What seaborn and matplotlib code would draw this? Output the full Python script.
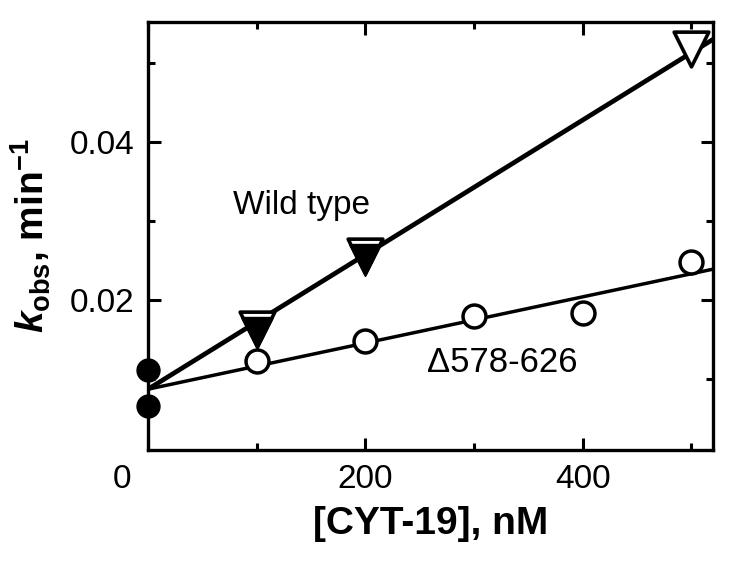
import numpy as np
import pandas as pd
import matplotlib
matplotlib.use("Agg")
import matplotlib.pyplot as plt
import matplotlib.transforms as mtransforms
from matplotlib.ticker import FixedLocator
import seaborn as sns

# ---- data ----
conc_zero = [0, 0]
kobs_zero = [0.0111, 0.0066]

conc_wt_open = [100, 200, 500]
kobs_wt_open = [0.0163, 0.0256, 0.0518]
conc_wt_filled = [100, 200]
kobs_wt_filled = [0.0158, 0.0251]

conc_del = [100, 200, 300, 400, 500]
kobs_del = [0.0123, 0.0148, 0.0180, 0.0184, 0.0248]

fit_x = [0, 520]
wt_fit = [0.0087, 0.0530]
del_fit = [0.0087, 0.0239]

x_major = [0, 200, 400]
x_major_labels = ["0", "200", "400"]
x_minor = [100, 300, 500]
y_major = [0.02, 0.04]
y_major_labels = ["0.02", "0.04"]
y_minor = [0.01, 0.03, 0.05]

# ---- style ----
sns.set_style("ticks")
plt.rcParams["font.family"] = ["Liberation Sans", "DejaVu Sans"]
plt.rcParams["mathtext.fontset"] = "custom"
plt.rcParams["mathtext.rm"] = "Liberation Sans:bold"
plt.rcParams["mathtext.bf"] = "Liberation Sans:bold"
plt.rcParams["mathtext.it"] = "Liberation Sans:italic:bold"
for k in ["text.color", "axes.labelcolor", "xtick.color", "ytick.color",
          "axes.edgecolor", "xtick.labelcolor", "ytick.labelcolor"]:
    plt.rcParams[k] = "black"

fig = plt.figure(figsize=(7.29, 5.63), dpi=100)
ax = fig.add_axes([148 / 729, 1 - 450 / 563, (713 - 148) / 729, (450 - 22) / 563])

# fit lines
sns.lineplot(x=fit_x, y=wt_fit, ax=ax, color="black", lw=3.4, zorder=2)
sns.lineplot(x=fit_x, y=del_fit, ax=ax, color="black", lw=2.5, zorder=2)

# markers
sns.scatterplot(x=conc_del, y=kobs_del, ax=ax, marker="o", s=16.5**2,
                color="white", edgecolor="black", linewidth=2.5, zorder=3)
sns.scatterplot(x=conc_zero, y=kobs_zero, ax=ax, marker="o", s=16.5**2,
                color="black", edgecolor="black", linewidth=1.0, zorder=3)
sns.scatterplot(x=conc_wt_open, y=kobs_wt_open, ax=ax, marker="v", s=25**2,
                color="white", edgecolor="black", linewidth=2.6, zorder=4)
sns.scatterplot(x=conc_wt_filled, y=kobs_wt_filled, ax=ax, marker="v", s=23**2,
                color="black", edgecolor="black", linewidth=1.0, zorder=5)
for c in ax.collections:
    c.set_clip_on(False)

ax.set_xlim(0, 520)
ax.set_ylim(0.001, 0.0552)

ax.xaxis.set_major_locator(FixedLocator(x_major))
ax.xaxis.set_minor_locator(FixedLocator(x_minor))
ax.set_xticklabels(x_major_labels)
ax.yaxis.set_major_locator(FixedLocator(y_major))
ax.yaxis.set_minor_locator(FixedLocator(y_minor))
ax.set_yticklabels(y_major_labels)

ax.tick_params(which="both", direction="in", top=True, right=True,
               width=2.2, colors="black", labelcolor="black", labelsize=24)
ax.tick_params(which="major", length=9, pad=10)
ax.tick_params(which="minor", length=5)
for s in ax.spines.values():
    s.set_linewidth(2.4)
    s.set_color("black")

ax.set_xlabel("[CYT-19], nM", fontsize=28, fontweight="bold", labelpad=8, color="black")
ax.set_ylabel(r"$k_{\rm obs}$, min$^{-1}$", fontsize=28, fontweight="bold",
              labelpad=12, color="black")

# shift the "0" x tick label to the left as in the reference
offset = mtransforms.ScaledTranslation(-26 / 100, 0, fig.dpi_scale_trans)
lbl = ax.xaxis.get_major_ticks()[0].label1
lbl.set_transform(lbl.get_transform() + offset)

ax.text(141, 0.0309, "Wild type", fontsize=24, ha="center", va="baseline", color="black")
ax.text(326, 0.0109, "\u0394578-626", fontsize=25, ha="center", va="baseline", color="black")

fig.savefig("out.png", dpi=100)
